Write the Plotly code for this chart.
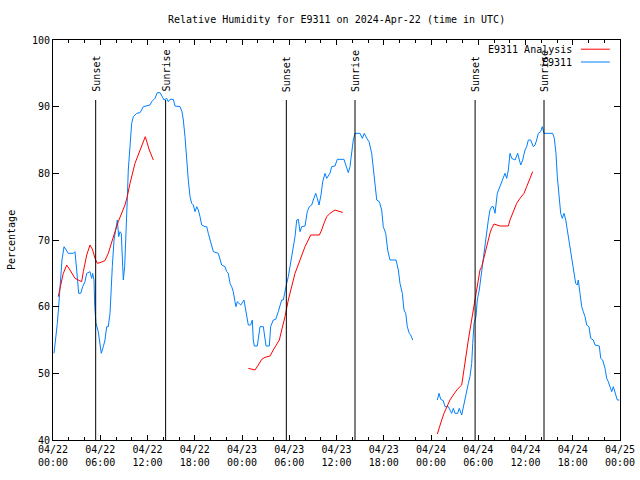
import pandas as pd
import plotly.graph_objects as go

BASE = pd.Timestamp("2024-04-22 00:00")

# Observed relative humidity (E9311), hours since 2024-04-22 00:00 UTC
obs1_hours = [0.13, 0.38, 0.55, 0.72, 0.89, 0.98, 1.14, 1.40, 1.74, 1.94, 2.58, 2.79, 3.01, 3.26, 3.52, 3.77,
              4.06, 4.28, 4.70, 4.91, 5.04, 5.21, 5.30, 5.46, 5.75, 5.97, 6.13, 6.39, 6.60, 6.82, 7.02, 7.24,
              7.37, 7.53, 7.75, 7.87, 8.00, 8.17, 8.34, 8.51, 8.67, 8.85, 8.93, 9.10, 9.27, 9.43, 9.56, 9.78,
              9.99, 10.20, 10.63, 11.05, 11.47, 12.32, 12.53, 12.95, 13.24, 13.59, 13.84, 14.10, 14.44, 14.64,
              14.86, 15.28, 15.49, 16.13, 16.38, 16.55, 16.76, 16.98, 17.18, 17.40, 17.61, 17.82, 18.03, 18.25,
              18.45, 18.67, 18.88, 19.30, 19.52, 19.72, 19.94, 20.36, 20.99, 21.21, 21.42, 21.84, 22.06, 22.26,
              22.48, 22.69, 22.89, 23.11, 23.24, 23.40, 23.66, 23.84, 24.25, 24.51, 24.80, 25.10, 25.31, 25.43,
              25.56, 25.94, 26.29, 26.71, 26.92, 27.05, 27.47, 27.64, 27.97, 28.28, 28.61, 29.04, 29.24, 29.46,
              29.68, 29.88, 30.10, 30.31, 30.51, 30.73, 30.95, 31.15, 31.37, 31.58, 32.00, 32.29, 32.55, 32.85,
              33.05, 33.36, 33.56, 33.78, 34.03, 34.25, 34.54, 34.76, 35.17, 35.39, 35.81, 36.10, 36.95, 37.21,
              37.50, 37.71, 37.93, 38.13, 38.35, 38.98, 39.28, 39.53, 39.84, 40.13, 40.47, 40.67, 40.89, 41.11,
              41.44, 41.74, 41.94, 42.25, 42.50, 42.79, 43.56, 43.85, 44.06, 44.36, 44.57, 44.79, 44.99, 45.24,
              45.42, 45.68]
obs1_values = [53.0, 55.5, 57.5, 60.0, 62.5, 64.75, 67.0, 69.0, 68.25, 68.0, 68.0, 68.25, 65.5, 62.0, 62.0, 63.0,
               63.75, 65.0, 65.25, 64.25, 65.0, 64.0, 60.0, 57.5, 56.25, 54.0, 53.0, 54.0, 55.0, 57.0, 57.0, 59.0,
               63.0, 66.0, 70.0, 71.0, 72.0, 73.0, 70.5, 71.25, 71.0, 67.0, 64.0, 66.0, 73.0, 76.0, 80.5, 85.0,
               87.5, 88.5, 89.0, 89.1, 90.0, 90.25, 90.75, 91.25, 92.1, 92.1, 91.5, 91.0, 91.25, 90.75,
               91.1, 91.1, 90.1, 90.0, 89.25, 88.0, 85.5, 81.5, 79.0, 76.5, 75.5, 75.25, 74.25, 75.0,
               74.5, 73.5, 72.25, 72.0, 72.0, 71.0, 70.0, 68.25, 68.0, 67.25, 66.25, 66.0, 65.25, 65.0,
               63.5, 63.0, 62.25, 60.75, 60.0, 60.75, 60.5, 60.25, 61.0, 59.0, 57.25, 57.25, 58.0, 55.0,
               54.1, 54.1, 57.0, 57.0, 55.0, 54.1, 54.1, 57.0, 58.0, 58.1, 59.25, 61.0, 61.0, 62.5,
               63.5, 64.5, 66.0, 67.5, 69.0, 70.5, 73.0, 73.1, 71.25, 72.0, 72.1, 74.25, 75.0, 75.25,
               76.0, 77.0, 76.25, 75.25, 76.75, 78.75, 80.0, 79.25, 80.0, 81.0, 81.1, 82.1, 82.1, 81.25,
               80.1, 81.0, 83.0, 85.0, 86.0, 86.0, 85.25, 86.0, 85.25, 84.75, 83.0, 80.5, 78.5, 76.0,
               75.75, 74.5, 72.0, 71.0, 68.5, 67.0, 67.0, 65.5, 63.5, 62.0, 59.5, 59.0, 57.0, 56.0,
               55.75, 55.0]

obs2_hours = [48.80, 49.02, 49.23, 49.56, 49.78, 50.20, 50.41, 50.63, 50.83, 51.05, 51.39, 51.59, 51.90, 52.10,
              52.32, 52.53, 52.74, 52.95, 53.17, 53.30, 53.46, 53.71, 53.88, 54.13, 54.44, 54.64, 54.86, 55.07,
              55.28, 55.49, 55.71, 55.91, 56.13, 56.42, 56.76, 57.11, 57.40, 57.61, 57.82, 58.03, 58.25, 58.67,
              59.01, 59.39, 59.64, 59.94, 60.15, 60.36, 60.66, 60.99, 61.21, 61.42, 61.63, 61.93, 62.13, 62.35,
              63.45, 63.66, 63.87, 64.04, 64.25, 64.47, 64.67, 64.89, 65.11, 65.31, 65.52, 65.74, 65.94, 66.16,
              66.37, 66.58, 66.70, 66.92, 67.14, 67.34, 67.56, 67.77, 68.06, 68.28, 68.61, 68.83, 69.37, 69.55,
              69.80, 70.10, 70.31, 70.51, 70.73, 70.95, 71.15, 71.37, 71.66, 71.91]
obs2_values = [46.0, 47.0, 46.1, 45.9, 45.0, 45.0, 44.5, 44.0, 44.75, 44.0, 44.0, 44.75, 43.75, 45.0,
               46.0, 47.5, 48.5, 49.5, 51.5, 54.5, 57.5, 58.5, 61.0, 62.5, 65.5, 67.0, 69.0, 71.0,
               73.0, 74.5, 75.0, 75.0, 74.0, 77.0, 78.0, 79.0, 80.0, 79.25, 80.5, 83.0, 82.25, 82.0,
               83.0, 81.25, 82.0, 83.5, 84.0, 85.0, 85.0, 84.0, 84.25, 85.0, 86.0, 86.25, 87.0, 86.0,
               86.0, 85.25, 83.0, 79.5, 77.0, 74.0, 73.25, 74.0, 73.0, 71.5, 70.0, 68.5, 67.0, 65.0,
               63.5, 63.25, 64.0, 62.0, 60.0, 59.25, 58.5, 57.25, 57.0, 55.25, 55.0, 54.25, 54.1, 52.25,
               52.0, 50.75, 49.25, 48.75, 48.0, 47.25, 48.0, 47.0, 46.0, 46.0]

# Analysis relative humidity (E9311 Analysis)
ana1_hours = [0.67, 0.80, 0.98, 1.31, 1.74, 2.16, 2.58, 2.79, 3.21, 3.64, 3.85, 4.28, 4.70, 5.04, 5.33, 5.63,
              5.97, 6.60, 7.02, 7.45, 7.87, 8.29, 8.72, 9.14, 9.43, 9.78, 10.41, 11.05, 11.72, 12.23, 12.74]
ana1_values = [61.5, 62.4, 63.25, 65.0, 66.25, 65.5, 64.75, 64.25, 64.0, 63.75, 65.25, 67.75, 69.25, 68.5, 67.25, 66.5,
               66.6, 66.9, 68.0, 69.75, 71.25, 72.75, 74.0, 75.25, 76.5, 78.5, 81.5, 83.5, 85.5, 83.5, 82.0]

ana2_hours = [24.80, 25.23, 25.65, 26.07, 26.50, 26.92, 27.56, 27.97, 28.41, 28.74, 29.04, 29.46, 29.88, 30.31,
              30.73, 31.37, 32.00, 32.42, 32.72, 33.82, 34.12, 34.41, 34.76, 35.17, 35.81, 36.44, 36.79]
ana2_values = [50.75, 50.6, 50.5, 51.25, 52.1, 52.4, 52.6, 53.5, 54.25, 55.0, 56.5, 58.5, 61.0, 63.0,
               65.0, 67.0, 69.0, 70.0, 70.75, 70.75, 71.5, 72.5, 73.5, 74.0, 74.5, 74.25, 74.15]

ana3_hours = [48.80, 49.05, 49.36, 49.65, 49.99, 50.41, 50.83, 51.34, 51.90, 52.10, 52.32, 52.53, 52.74, 52.95,
              53.17, 53.37, 53.59, 53.80, 54.01, 54.22, 54.44, 54.64, 54.86, 55.07, 55.28, 55.49, 55.71, 56.00,
              56.76, 57.82, 58.03, 58.48, 58.88, 59.30, 59.81, 60.15, 60.57, 60.91]
ana3_values = [40.9, 42.0, 43.0, 44.0, 45.0, 46.0, 46.75, 47.6, 48.25, 50.0, 51.5, 53.5, 55.0, 56.5,
               58.0, 59.5, 61.0, 62.5, 64.0, 65.5, 66.0, 67.0, 68.0, 69.0, 70.0, 71.0, 71.75, 72.4,
               72.1, 72.1, 73.0, 74.5, 75.5, 76.25, 77.0, 78.0, 79.25, 80.25]

# Sun events (hours since start)
sunset_hours = [5.42, 29.63, 53.6]
sunrise_hours = [14.3, 38.35, 62.35]
sun_line_top = 91

tick_hours = list(range(0, 73, 6))
tick_labels = ["04/22<br>00:00", "04/22<br>06:00", "04/22<br>12:00", "04/22<br>18:00",
               "04/23<br>00:00", "04/23<br>06:00", "04/23<br>12:00", "04/23<br>18:00",
               "04/24<br>00:00", "04/24<br>06:00", "04/24<br>12:00", "04/24<br>18:00",
               "04/25<br>00:00"]


def to_time(hours):
    return [BASE + pd.Timedelta(hours=h) for h in hours]


def join_segments(segments):
    xs, ys = [], []
    for i, (h, v) in enumerate(segments):
        if i:
            xs.append(None)
            ys.append(None)
        xs.extend(to_time(h))
        ys.extend(v)
    return xs, ys


FONT = "DejaVu Sans Mono"
FS = 10
RED = "#ff0000"
BLUE = "#0080ff"

fig = go.Figure()
bx, by = join_segments([(obs1_hours, obs1_values), (obs2_hours, obs2_values)])
rx, ry = join_segments([(ana1_hours, ana1_values), (ana2_hours, ana2_values), (ana3_hours, ana3_values)])
fig.add_trace(go.Scatter(x=bx, y=by, mode="lines", line=dict(color=BLUE, width=1),
                         connectgaps=False, name="E9311", showlegend=False))
fig.add_trace(go.Scatter(x=rx, y=ry, mode="lines", line=dict(color=RED, width=1),
                         connectgaps=False, name="E9311 Analysis", showlegend=False))

for hrs, label in [(sunset_hours, "Sunset"), (sunrise_hours, "Sunrise")]:
    for t in to_time(hrs):
        fig.add_shape(type="line", x0=t, x1=t, y0=40, y1=sun_line_top, xref="x", yref="y",
                      line=dict(color="black", width=1))
        fig.add_annotation(x=t, y=sun_line_top, xref="x", yref="y", text=label, textangle=-90,
                           showarrow=False, xanchor="center", yanchor="bottom", yshift=6,
                           font=dict(family=FONT, size=FS, color="black"))

# Legend drawn gnuplot-style (text then sample line)
for ypos, label, col in [(0.977, "E9311 Analysis", RED), (0.945, "E9311", BLUE)]:
    fig.add_annotation(x=0.919, y=ypos, xref="paper", yref="paper", text=label, showarrow=False,
                       xanchor="right", yanchor="middle", font=dict(family=FONT, size=FS, color="black"))
    fig.add_shape(type="line", x0=0.931, x1=0.982, y0=ypos, y1=ypos, xref="paper", yref="paper",
                  line=dict(color=col, width=1))

# Title and y-axis label
fig.add_annotation(x=0.5, y=1.05, xref="paper", yref="paper",
                   text="Relative Humidity for E9311 on 2024-Apr-22 (time in UTC)", showarrow=False,
                   xanchor="center", yanchor="middle", font=dict(family=FONT, size=FS, color="black"))
fig.add_annotation(x=-0.074, y=0.5, xref="paper", yref="paper", text="Percentage", textangle=-90,
                   showarrow=False, xanchor="center", yanchor="middle",
                   font=dict(family=FONT, size=FS, color="black"))

fig.update_layout(
    width=640, height=480,
    margin=dict(l=53, r=20, t=40, b=40, autoexpand=False),
    paper_bgcolor="white", plot_bgcolor="white",
    font=dict(family=FONT, size=FS, color="black"),
    showlegend=False,
)
fig.update_xaxes(
    type="date", range=[BASE, BASE + pd.Timedelta(hours=72)], automargin=False,
    tickvals=to_time(tick_hours), ticktext=tick_labels,
    ticks="inside", ticklen=5, tickcolor="black", showline=True, linecolor="black", linewidth=1,
    mirror="ticks", showgrid=False, zeroline=False,
    minor=dict(dtick=2 * 3600 * 1000, ticks="inside", ticklen=3, tickcolor="black", showgrid=False),
    tickfont=dict(family=FONT, size=FS),
)
fig.update_yaxes(
    range=[40, 100], dtick=10, tick0=40, automargin=False,
    ticks="inside", ticklen=6, tickcolor="black", showline=True, linecolor="black", linewidth=1,
    mirror="ticks", showgrid=False, zeroline=False,
    tickfont=dict(family=FONT, size=FS),
)

fig.write_html("out.html", config={"displayModeBar": False},
               post_script="document.body.style.margin='0';document.body.style.padding='0';")
